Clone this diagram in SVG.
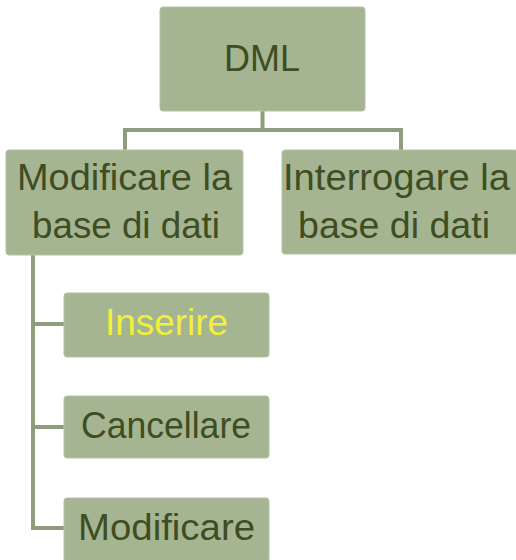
<svg xmlns="http://www.w3.org/2000/svg" width="516" height="560" viewBox="0 0 516 560">
<style>
.box{fill:#A5B592;stroke:#B5C2A5;stroke-width:1}
.t{font-family:"Liberation Sans",Arial,sans-serif;font-size:36px;fill:#3F4D22;text-anchor:middle}
.conn{fill:none;stroke:#8E9E7C;stroke-width:4}
</style>
<rect width="516" height="560" fill="#FFFFFF"/>
<g id="connectors">
<path class="conn" d="M262.5 111 V130 M123 130 H401 M125 128 V150 M401 128 V150"/>
<path class="conn" d="M33 255 V528 M31 324 H64 M31 427 H64 M31 528 H64"/>
</g>
<g id="dml">
<rect class="box" x="160" y="7" width="205" height="104" rx="3"/>
<text class="t" x="262" y="71" font-size="40" textLength="76" lengthAdjust="spacingAndGlyphs">DML</text>
</g>
<g id="modificare-base">
<rect class="box" x="6" y="150" width="237" height="105" rx="3"/>
<text class="t" x="124.5" y="190" textLength="215" lengthAdjust="spacingAndGlyphs">Modificare la</text>
<text class="t" x="126" y="238" textLength="188" lengthAdjust="spacingAndGlyphs">base di dati</text>
</g>
<g id="interrogare-base">
<rect class="box" x="282" y="150" width="236" height="104" rx="3"/>
<text class="t" x="396.5" y="190" textLength="227" lengthAdjust="spacingAndGlyphs">Interrogare la</text>
<text class="t" x="394" y="238" textLength="192" lengthAdjust="spacingAndGlyphs">base di dati</text>
</g>
<g id="inserire">
<rect class="box" x="64" y="293" width="205" height="64" rx="3"/>
<text class="t" x="166.5" y="335" style="fill:#F2F03C" textLength="123" lengthAdjust="spacingAndGlyphs">Inserire</text>
</g>
<g id="cancellare">
<rect class="box" x="64" y="396" width="205" height="62" rx="3"/>
<text class="t" x="166" y="438" textLength="170" lengthAdjust="spacingAndGlyphs">Cancellare</text>
</g>
<g id="modificare">
<rect class="box" x="64" y="498" width="205" height="64" rx="3"/>
<text class="t" x="166.5" y="540" textLength="177" lengthAdjust="spacingAndGlyphs">Modificare</text>
</g>
</svg>
